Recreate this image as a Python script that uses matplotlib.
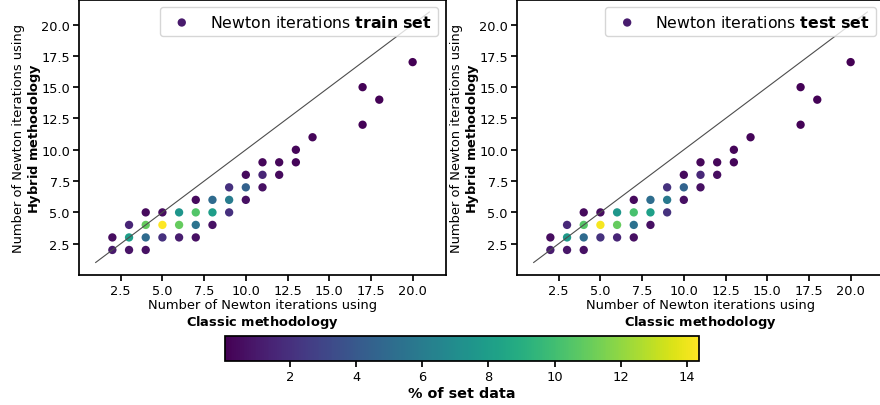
import numpy as np
import matplotlib
matplotlib.use("Agg")
import matplotlib.pyplot as plt

# classic iterations (x), hybrid iterations (y), % of set data (colour)
classic = [2, 3, 4,
           2, 3, 4, 5, 6, 7,
           3, 4, 5, 6, 7, 8,
           4, 5, 6, 7, 8, 9,
           7, 8, 9, 10,
           9, 10, 11,
           10, 11, 12,
           11, 12, 13,
           13, 14, 17, 18, 17, 20]
hybrid = [2, 2, 2,
          3, 3, 3, 3, 3, 3,
          4, 4, 4, 4, 4, 4,
          5, 5, 5, 5, 5, 5,
          6, 6, 6, 6,
          7, 7, 7,
          8, 8, 8,
          9, 9, 9,
          10, 11, 12, 14, 15, 17]
pct_train = [1.0, 0.8, 0.7,
             0.5, 8.0, 5.0, 2.0, 1.2, 0.6,
             1.5, 11.0, 14.37, 11.0, 5.5, 0.7,
             0.4, 0.5, 7.5, 10.5, 8.0, 2.0,
             0.4, 5.0, 6.0, 0.6,
             2.0, 4.5, 0.6,
             0.4, 1.5, 0.4,
             0.3, 0.3, 0.2,
             0.2, 0.2, 0.1, 0.1, 0.1, 0.05]
pct_test = [1.1, 0.9, 0.7,
            0.5, 7.8, 5.0, 2.1, 1.5, 0.6,
            1.6, 10.6, 14.2, 11.0, 5.4, 0.6,
            0.4, 0.5, 7.6, 10.2, 8.1, 2.1,
            0.4, 5.1, 5.8, 0.6,
            2.1, 4.6, 0.6,
            0.4, 1.6, 0.5,
            0.3, 0.3, 0.2,
            0.2, 0.2, 0.1, 0.1, 0.1, 0.05]
cbar_ticks = [2, 4, 6, 8, 10, 12, 14]
vmin, vmax = 0.03, 14.37

fig = plt.figure(figsize=(8.8, 4.06), dpi=100)
ax1 = fig.add_axes([79 / 880, 130 / 406, 367 / 880, 275.5 / 406])
ax2 = fig.add_axes([517 / 880, 130 / 406, 367 / 880, 275.5 / 406])

for ax, pct, name in [(ax1, pct_train, 'train'), (ax2, pct_test, 'test')]:
    sc = ax.scatter(classic, hybrid, c=pct, cmap='viridis', vmin=vmin, vmax=vmax,
                    s=36, linewidths=0, label='Newton iterations $\\bf{' + name + '\\ set}$')
    ax.plot([1, 21], [1, 21], color='0.3', lw=0.8)
    ax.set_xlim(0, 22)
    ax.set_ylim(0, 22)
    ax.set_xticks([2.5, 5, 7.5, 10, 12.5, 15, 17.5, 20])
    ax.set_yticks([2.5, 5, 7.5, 10, 12.5, 15, 17.5, 20])
    ax.tick_params(labelsize=9.3, length=4.5, width=1.25, pad=2)
    for s in ax.spines.values():
        s.set_linewidth(1.25)
    ax.set_xlabel('Number of Newton iterations using\n$\\bf{Classic\\ methodology}$',
                  fontsize=9.4, labelpad=1, linespacing=1.1)
    ax.set_ylabel('Number of Newton iterations using\n$\\bf{Hybrid\\ methodology}$',
                  fontsize=9.4, labelpad=-1.5, linespacing=1.1)
    ax.legend(loc='upper right', fontsize=11.3)

cax = fig.add_axes([225 / 880, 44 / 406, 474 / 880, 25.5 / 406])
cb = fig.colorbar(sc, cax=cax, orientation='horizontal', ticks=cbar_ticks)
cb.outline.set_linewidth(1.25)
cax.tick_params(labelsize=9.4, length=4.5, width=1.25, pad=2)
cb.set_label('% of set data', fontsize=10.4, fontweight='bold', labelpad=2)

fig.savefig('out.png', dpi=100)
